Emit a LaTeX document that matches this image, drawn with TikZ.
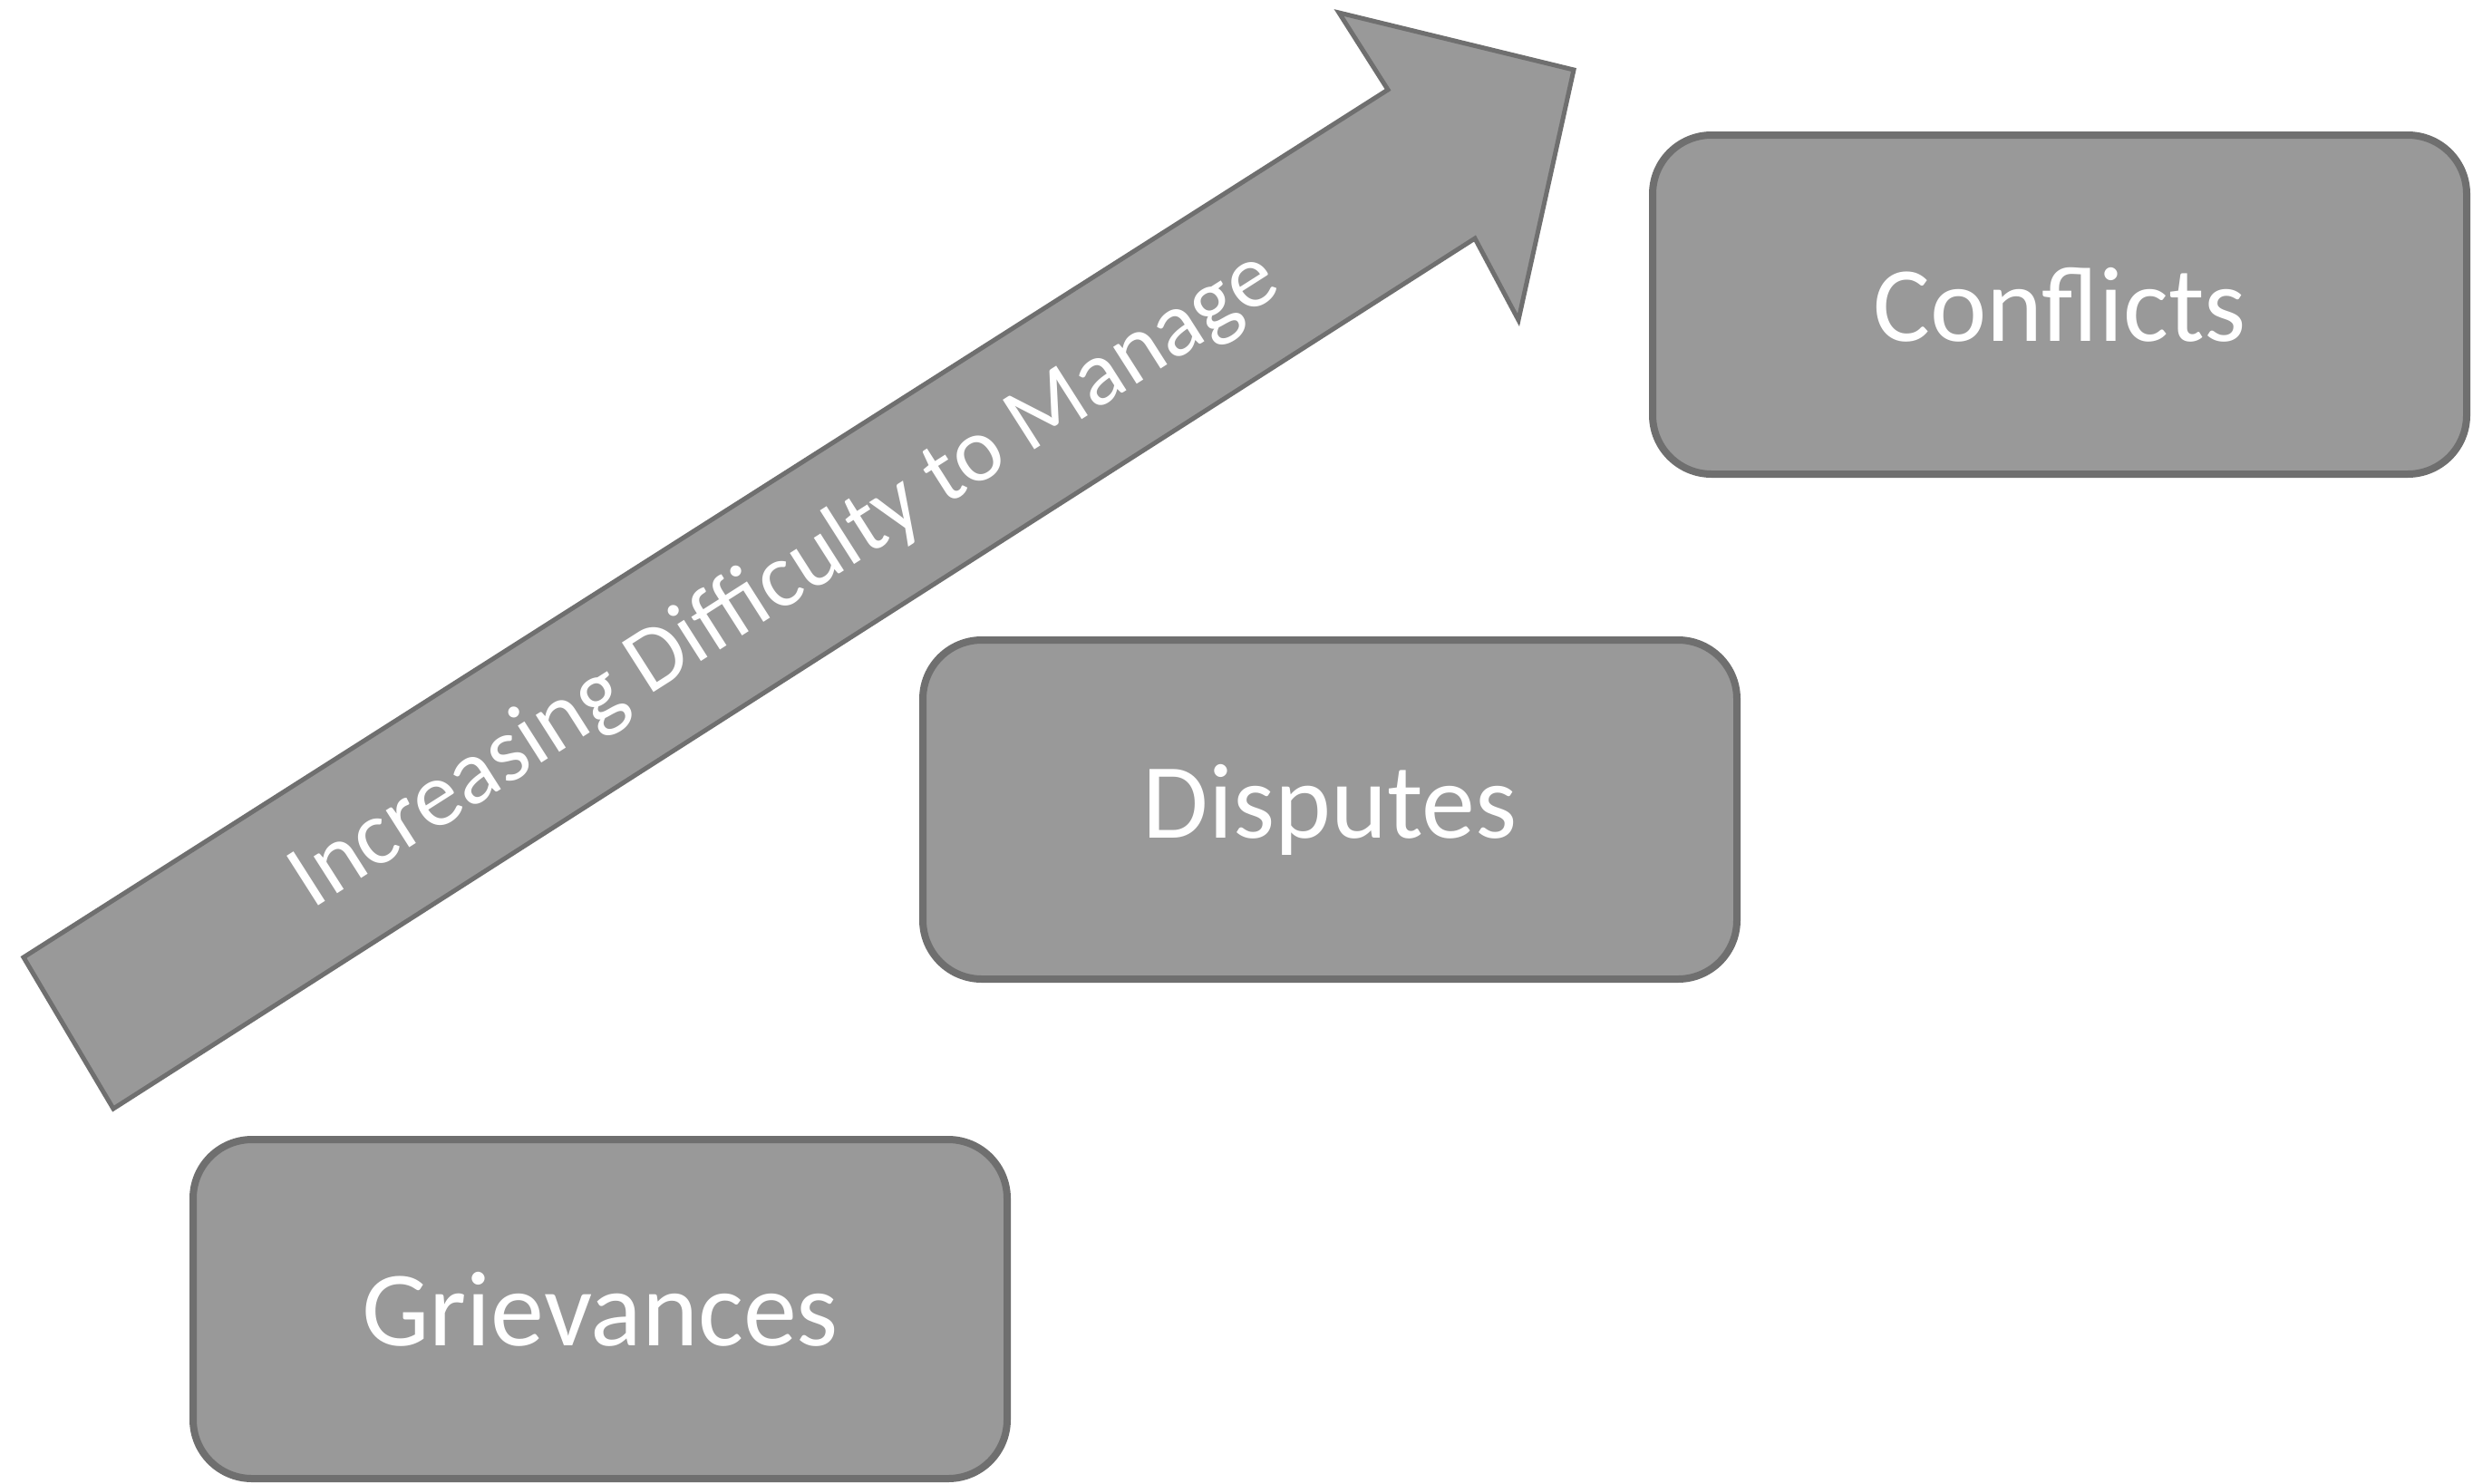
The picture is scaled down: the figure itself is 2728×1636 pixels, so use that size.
\documentclass[tikz,border=0pt]{standalone}
\usepackage{fontspec}
\setmainfont{Carlito}
\definecolor{boxfill}{HTML}{999999}
\definecolor{boxline}{HTML}{6F6F6F}
\begin{document}
\begin{tikzpicture}[x=1pt,y=1pt,
  stage/.style={draw=boxline, fill=boxfill, line width=8pt, rounded corners=65pt,
    minimum width=898pt, minimum height=374pt, inner sep=0pt,
    text=white, font=\fontsize{118}{140}\selectfont},
  arrowtext/.style={text=white, font=\fontsize{101}{120}\selectfont, rotate=32.5, inner sep=0pt}]
\useasboundingbox[fill=white] (0,-1636) rectangle (2728,0);
% arrow
\draw[fill=boxfill, draw=boxline, line width=5pt, line join=miter]
  (125,-1223) -- (26,-1056) -- (1531,-99) -- (1477,-14) -- (1736,-77) -- (1675,-353) -- (1627,-263) -- cycle;
\node[arrowtext] (lbl) at (866,-640) {Increasing Difficulty to Manage};
% stages
\node[stage] (griev) at (662,-1444) {Grievances};
\node[stage] (disp) at (1467,-893) {Disputes};
\node[stage] (conf) at (2272,-336) {Conflicts};
\end{tikzpicture}
\end{document}
